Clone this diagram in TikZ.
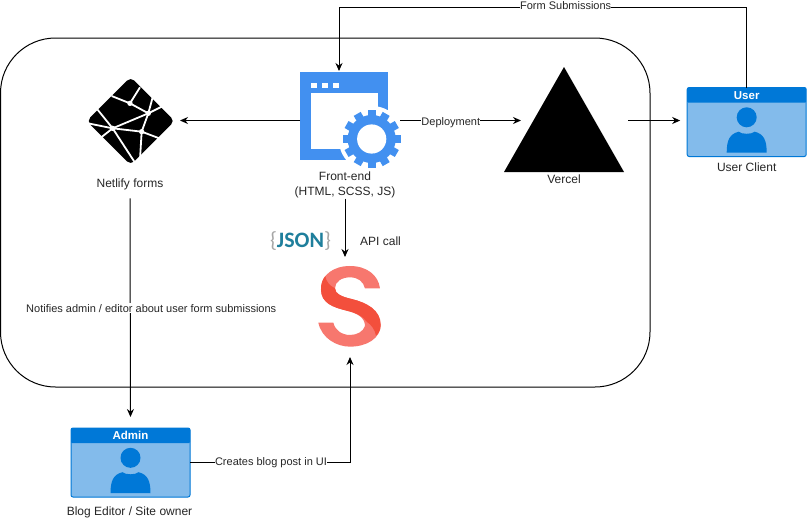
\documentclass[tikz,border=0pt]{standalone}
\usepackage{fontspec}
\setmainfont{Liberation Sans}
\newfontfamily\jsonfont{Carlito}
\usepackage{xcolor}
\usepackage{tikz}
\usetikzlibrary{arrows.meta,positioning,calc}

\definecolor{winblue}{HTML}{4290F0}
\definecolor{cardblue}{HTML}{0078D7}
\definecolor{cardfill}{HTML}{83BBEB}
\definecolor{sanlight}{HTML}{F7776E}
\definecolor{sandark}{HTML}{F34F3C}
\definecolor{jsonteal}{HTML}{1F7F9C}

% card with a title strip and a person on it
\newcommand{\usercard}[3]{
    \node [card] (#1) at (#2) {};
    \node [cardhead, anchor=north] (#1head) at (#1.north) {#3};
    \begin{scope}[shift={(#1.center)}]
        \fill [cardblue] (0,-4.7) circle (10);
        \fill [cardblue] (-20,30.7) .. controls (-20,18) and (-17,12) .. (-8,9.7) .. controls (-5,12.5) and (5,12.5) .. (8,9.7) .. controls (17,12) and (20,18) .. (20,30.7) -- cycle;
    \end{scope}
}

\begin{document}
\begin{tikzpicture}[
    x=1pt, y=-1pt,
    txt/.style={inner sep=0pt, align=center, font=\fontsize{12}{15}\selectfont, text=black!85},
    lbl/.style={inner sep=0pt, align=center, font=\fontsize{11}{15}\selectfont, text=black!85, fill=white, inner ysep=1pt},
    icon/.style={rectangle, inner sep=0pt, outer sep=0pt, minimum width=100pt, minimum height=99pt},
    card/.style={rectangle, draw=cardblue, fill=cardfill, line width=1pt, rounded corners=2pt, minimum width=119pt, minimum height=69pt, inner sep=0pt, outer sep=0pt},
    cardhead/.style={rectangle, fill=cardblue, rounded corners=1pt, minimum width=119pt, minimum height=15pt, inner sep=0pt, text=white, font=\fontsize{11.5}{12}\selectfont\bfseries},
    arr/.style={-{Stealth[length=8pt,width=7pt]}, line width=1pt, draw=black}
]
    \useasboundingbox (0,0) rectangle (807,528);
    \fill [white] (0,0) rectangle (807,528);
    \draw [black, line width=1pt, rounded corners=55pt] (0.5,38) rectangle (650,387);

    \node [icon] (frontend) at (350,120.5) {};
    \node [icon, left=120pt of frontend] (netlify) {};
    \node [icon, right=121pt of frontend, minimum width=107pt, minimum height=105pt] (vercel) {};
    \node [icon, minimum width=64pt, minimum height=100pt] (sanity) at (350,307) {};

    \usercard{user}{746.7,122}{User}
    \usercard{admin}{130.5,462.5}{Admin}

    % browser window with the gear
    \fill [winblue] (300,72) rectangle (388,160);
    \fill [white] (311,93) rectangle (378,149);
    \foreach \sx in {311,322,333} {
        \fill [white] (\sx,83) rectangle ++(6,5);
    }
    \fill [white] (371.7,139) circle (33);
    \fill [winblue] (371.7,139) circle (24);
    \foreach \ang in {0,30,...,330} {
        \fill [winblue, rotate around={\ang:(371.7,139)}] (367.7,139) rectangle (375.7,110);
    }
    \fill [white] (371.7,139) circle (14.6);

    % diamond logo
    \fill [black, rounded corners=5pt] (130.7,77) -- (174.7,121) -- (130.7,165) -- (86.7,121) -- cycle;
    \begin{scope}[shift={(60,60)}, x=0.3333pt, y=-0.3333pt]
        \draw [white, line width=1.8pt] (112,148) -- (158,205) -- (225,308);
        \draw [white, line width=1.8pt] (84,190) -- (158,205) -- (245,215) -- (298,235);
        \draw [white, line width=1.8pt] (158,205) -- (265,160) -- (305,140);
        \draw [white, line width=1.8pt] (155,108) -- (210,130) -- (265,160);
        \draw [white, line width=1.8pt] (210,130) -- (240,82);
        \draw [white, line width=1.8pt] (278,112) -- (265,160) -- (245,215) -- (240,298);
        \draw [white, line width=1.8pt] (120,235) -- (158,205);
        \foreach \dx/\dy in {158/205,265/160,245/215,210/130} {
            \fill [white] (\dx,\dy) circle (8);
        }
    \end{scope}

    % triangle logo
    \fill [black] (504,172) -- (564,67) -- (624,172) -- cycle;

    % S logo
    \begin{scope}[shift={(250,220)}, x=0.3333pt, y=-0.3333pt]
        \fill [sanlight] (390,205) .. controls (385,165) and (350,138) .. (300,138) .. controls (250,138) and (213,165) .. (213,208) .. controls (213,250) and (250,262) .. (290,272) .. controls (325,280) and (345,295) .. (345,318) .. controls (340,335) and (320,345) .. (300,345) .. controls (275,345) and (255,330) .. (250,308) -- (205,308) .. controls (215,355) and (260,380) .. (300,380) .. controls (350,380) and (392,355) .. (392,315) .. controls (392,270) and (350,248) .. (305,237) .. controls (275,230) and (255,222) .. (255,205) .. controls (255,185) and (275,172) .. (300,172) .. controls (325,172) and (340,185) .. (345,205) -- cycle;
        \fill [sandark] (226,168) .. controls (217,178) and (213,192) .. (213,208) .. controls (213,250) and (250,262) .. (290,272) .. controls (320,279) and (340,290) .. (350,305) .. controls (365,315) and (375,330) .. (378,347) .. controls (388,338) and (392,328) .. (392,315) .. controls (392,270) and (350,248) .. (305,237) .. controls (275,230) and (255,222) .. (255,205) .. controls (240,198) and (228,185) .. (226,168) -- cycle;
    \end{scope}

    \node [txt, below=2pt of frontend, xshift=-5pt] (frontendlabel) {Front-end\\(HTML, SCSS, JS)};
    \node [txt, below=0pt of netlify, minimum height=28pt] (netlifylabel) {Netlify forms};
    \node [txt, below=2pt of vercel, xshift=-10.5pt] (vercellabel) {Vercel};
    \node [txt, right=15pt of frontendlabel.south, yshift=-43pt, anchor=west] (apilabel) {API call};
    \node [inner sep=0pt, font=\jsonfont\fontsize{22}{22}\selectfont] (json) at (300.5,241) {\textcolor{black!35}{\{}\textcolor{jsonteal}{\textbf{JSON}}\textcolor{black!35}{\}}};
    \node [txt, below=6.5pt of user] (userlabel) {User Client};
    \node [txt, below=9.5pt of admin, xshift=-1pt] (adminlabel) {Blog Editor / Site owner};

    \coordinate (formtop) at (339,7);
    \draw [arr] (user.north) |- node [lbl, pos=0.722, yshift=1pt] (formlabel) {Form Submissions} (formtop) -- (frontend.north -| formtop);
    \draw [arr] (frontend) -- (netlify);
    \draw [arr] (frontend) -- node [lbl, pos=0.42, yshift=-2.5pt] (deploylabel) {Deployment} (vercel);
    \draw [arr, shorten >=7pt] (vercel.east) -- (vercel.east -| user.west);
    \draw [arr] (frontendlabel.south) -- (frontendlabel.south |- sanity.north);
    \draw [arr, shorten >=11pt] (netlifylabel.south) -- node [lbl, pos=0.5, xshift=21pt, yshift=5pt] (notifylabel) {Notifies admin / editor about user form submissions} (admin.north);
    \draw [arr] (admin.east) -| node [lbl, pos=0.25, xshift=1pt] (createlabel) {Creates blog post in UI} (sanity.south);
\end{tikzpicture}
\end{document}
